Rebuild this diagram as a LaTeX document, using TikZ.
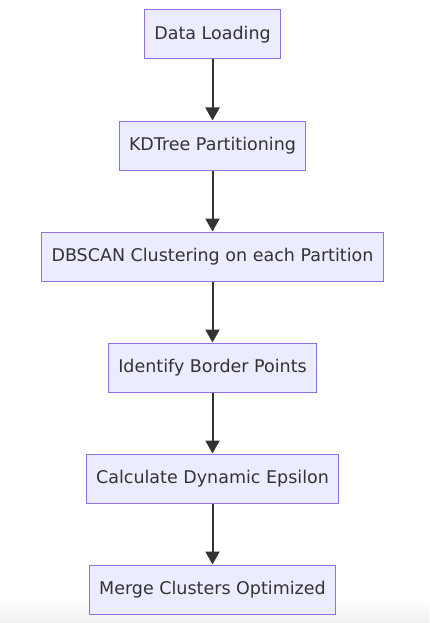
\documentclass[tikz,border=0pt]{standalone}
\usepackage{fontspec}
\setmainfont{DejaVu Sans}
\usetikzlibrary{positioning,arrows.meta}
\definecolor{boxfill}{HTML}{ECECFF}
\definecolor{boxline}{HTML}{9370DB}
\definecolor{edgeline}{HTML}{333333}
\definecolor{txt}{HTML}{333333}
\definecolor{shade}{HTML}{F0F0F0}

\begin{document}
\begin{tikzpicture}[x=1pt,y=-1pt,node distance=61pt,
    stage/.style={draw=boxline,fill=boxfill,line width=1pt,minimum height=49pt,
        inner xsep=10pt,text=txt,font=\fontsize{17.5}{20}\selectfont},
    flow/.style={draw=edgeline,line width=2pt,-{Triangle[length=13pt,width=14pt]}}]
    \useasboundingbox (0,0) rectangle (429,623);
    % faint page shadow at the bottom
    \shade[top color=white,bottom color=shade] (0,598) rectangle (429,623);
    \node[stage] (load) at (212.5,34.5) {Data Loading};
    \node[stage,below=of load] (kdtree) {KDTree Partitioning};
    \node[stage,below=of kdtree] (dbscan) {DBSCAN Clustering on each Partition};
    \node[stage,below=of dbscan] (border) {Identify Border Points};
    \node[stage,below=of border] (epsilon) {Calculate Dynamic Epsilon};
    \node[stage,below=of epsilon] (merge) {Merge Clusters Optimized};

    \draw[flow] (load) -- (kdtree);
    \draw[flow] (kdtree) -- (dbscan);
    \draw[flow] (dbscan) -- (border);
    \draw[flow] (border) -- (epsilon);
    \draw[flow] (epsilon) -- (merge);
\end{tikzpicture}
\end{document}
